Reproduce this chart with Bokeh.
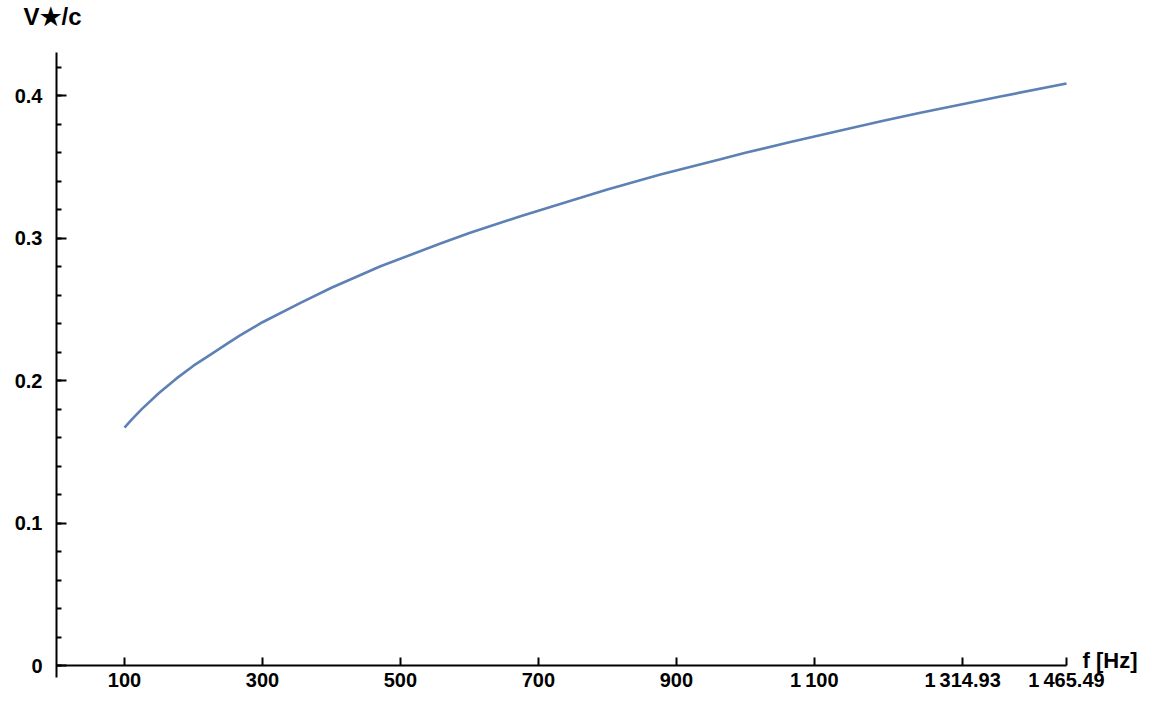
from bokeh.plotting import figure
from bokeh.models import Range1d, FixedTicker, Label
from bokeh.embed import file_html
from bokeh.resources import INLINE

# Data
freq_hz = [100, 110, 125, 150, 175, 200, 224.7, 250, 268.1, 300, 355.1, 400, 471.1, 558.0,
           600, 674.0, 761.0, 800, 876.9, 963.9, 1000, 1065.3, 1152.3, 1200, 1253.8, 1369.7, 1465.49]
v_over_c = [0.1670, 0.1724, 0.1799, 0.1912, 0.2013, 0.2104, 0.2182, 0.2262, 0.2318, 0.2409,
            0.2545, 0.2651, 0.2802, 0.2961, 0.3035, 0.3153, 0.3282, 0.3341, 0.3446, 0.3553,
            0.3598, 0.3673, 0.3770, 0.3823, 0.3879, 0.3993, 0.4084]

x_ticks = [100, 300, 500, 700, 900, 1100, 1314.93, 1465.49]
x_tick_labels = ["100", "300", "500", "700", "900", "1\u2009100", "1\u2009314.93", "1\u2009465.49"]
y_ticks = [0, 0.1, 0.2, 0.3, 0.4]
y_minor = [round(i * 0.02, 2) for i in range(0, 22)]
y_tick_labels = ["0", "0.1", "0.2", "0.3", "0.4"]

X_AXIS_START, X_AXIS_END = 1.43, 1465.49
Y_AXIS_START, Y_AXIS_END = -0.0084, 0.4302

FONT = "Liberation Sans"

p = figure(width=1142, height=692,
           min_border_left=0, min_border_right=0, min_border_top=0, min_border_bottom=0,
           x_range=Range1d(-79.75, 1575.66), y_range=Range1d(-0.018947, 0.46667),
           output_backend="svg", toolbar_location=None)

p.line(freq_hz, v_over_c, line_color="#5E81B5", line_width=2.6)

p.grid.visible = False
p.outline_line_color = None
p.background_fill_color = "white"
p.border_fill_color = "white"

xa = p.xaxis[0]
xa.fixed_location = 0
xa.bounds = (X_AXIS_START, X_AXIS_END)
xa.ticker = FixedTicker(ticks=x_ticks, minor_ticks=[])
xa.major_label_overrides = {t: l for t, l in zip(x_ticks, x_tick_labels)}
xa.major_tick_in = 8
xa.major_tick_out = 0
xa.minor_tick_in = 0
xa.minor_tick_out = 0
xa.axis_line_width = 2
xa.major_tick_line_width = 2
xa.major_label_standoff = 3
xa.major_label_text_font = FONT
xa.major_label_text_font_style = "bold"
xa.major_label_text_font_size = "20px"
xa.major_label_text_color = "black"

ya = p.yaxis[0]
ya.fixed_location = X_AXIS_START
ya.bounds = (Y_AXIS_START, Y_AXIS_END)
ya.ticker = FixedTicker(ticks=y_ticks, minor_ticks=y_minor)
ya.major_label_overrides = {t: l for t, l in zip(y_ticks, y_tick_labels)}
ya.major_tick_in = 10
ya.major_tick_out = 0
ya.minor_tick_in = 5
ya.minor_tick_out = 0
ya.axis_line_width = 2
ya.major_tick_line_width = 2
ya.minor_tick_line_width = 2
ya.major_label_standoff = 14
ya.major_label_text_font = FONT
ya.major_label_text_font_style = "bold"
ya.major_label_text_font_size = "20px"
ya.major_label_text_color = "black"

xlabel = Label(x=X_AXIS_END, y=0, x_offset=16, y_offset=5, text="f [Hz]",
               text_font=FONT, text_font_style="bold", text_font_size="22px",
               text_baseline="alphabetic", text_align="left", text_color="black")
ylabel = Label(x=X_AXIS_START, y=Y_AXIS_END, x_offset=-33, y_offset=36, text="V\u2605/c",
               text_font=FONT, text_font_style="bold", text_font_size="24px",
               text_baseline="alphabetic", text_align="left", text_color="black")
p.add_layout(xlabel)
p.add_layout(ylabel)

open("out.html", "w").write(file_html(p, INLINE))
